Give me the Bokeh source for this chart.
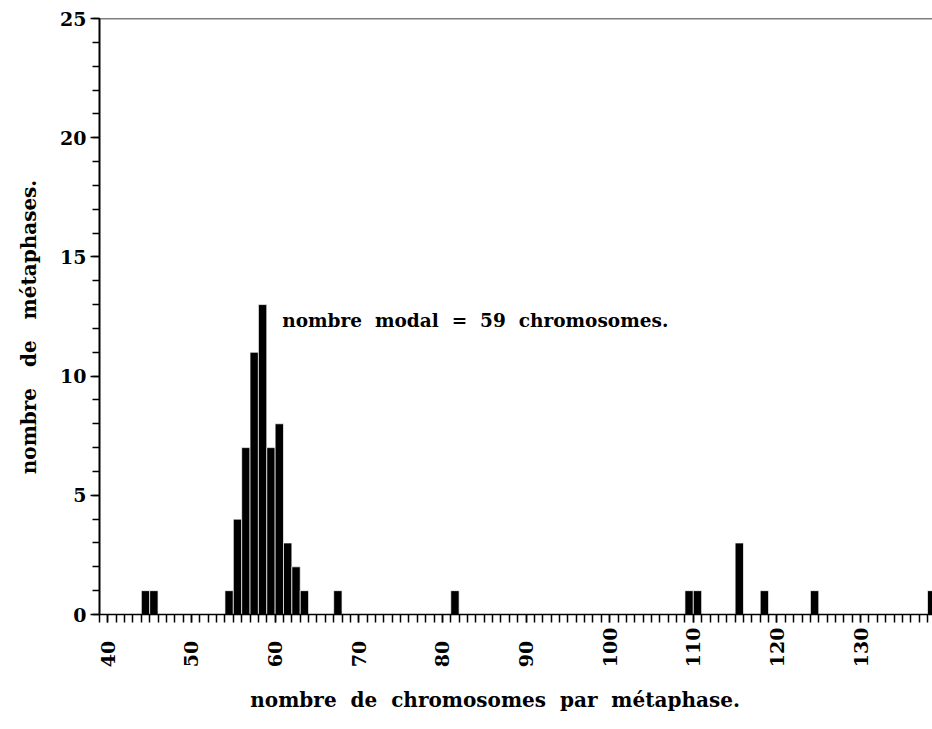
import math
from bokeh.plotting import figure
from bokeh.models import Range1d, FixedTicker, Label, Span
from bokeh.embed import file_html
from bokeh.resources import INLINE

# data
chromosomes = [45, 46, 55, 56, 57, 58, 59, 60, 61, 62, 63, 64, 68, 82, 110, 111, 116, 119, 125, 139]
metaphases = [1, 1, 1, 4, 7, 11, 13, 7, 8, 3, 2, 1, 1, 1, 1, 1, 3, 1, 1, 1]
x_tick_values = [40, 50, 60, 70, 80, 90, 100, 110, 120, 130]
x_tick_labels = ["40", "50", "60", "70", "80", "90", "100", "110", "120", "130"]
y_tick_values = [0, 5, 10, 15, 20, 25]
x_minor = list(range(39, 139))
y_minor = list(range(0, 26))

FONT = "DejaVu Serif"
NB = "\u00a0"


def spaced(words, n):
    return (NB * n).join(words)


p = figure(width=932, height=724, output_backend="svg", toolbar_location=None,
           x_range=Range1d(39, 138.6), y_range=Range1d(0, 25),
           min_border_left=99, min_border_right=0, min_border_top=18, min_border_bottom=110)
p.background_fill_color = "white"
p.border_fill_color = "white"
p.outline_line_color = None
p.xgrid.visible = False
p.ygrid.visible = False

lefts = [c - 1 for c in chromosomes]
p.quad(left=lefts, right=chromosomes, bottom=0, top=metaphases,
       fill_color="black", line_color="white", line_width=0.7)

# x axis: a tick at every unit, decade labels written bottom-to-top
xa = p.xaxis[0]
xa.ticker = FixedTicker(ticks=x_tick_values, minor_ticks=x_minor)
pad = "\u2007"
xa.major_label_overrides = {v: (t + pad if len(t) == 2 else t) for v, t in zip(x_tick_values, x_tick_labels)}
xa.major_label_orientation = math.pi / 2
xa.major_label_text_font = FONT
xa.major_label_text_font_style = "bold"
xa.major_label_text_font_size = "19px"
xa.major_label_text_color = "black"
xa.major_label_standoff = 5
xa.axis_line_color = "black"
xa.axis_line_width = 1.5
xa.minor_tick_line_color = "black"
xa.major_tick_line_color = "black"
xa.minor_tick_line_width = 1.5
xa.major_tick_line_width = 1.5
xa.minor_tick_out = 8
xa.minor_tick_in = 0
xa.major_tick_out = 8
xa.major_tick_in = 0
xa.axis_label = spaced(["nombre", "de", "chromosomes", "par", "métaphase."], 2) + NB * 6
xa.axis_label_text_font = FONT
xa.axis_label_text_font_style = "bold"
xa.axis_label_text_font_size = "20px"
xa.axis_label_text_color = "black"
xa.axis_label_standoff = 18

ya = p.yaxis[0]
ya.ticker = FixedTicker(ticks=y_tick_values, minor_ticks=y_minor)
ya.axis_line_color = "black"
ya.axis_line_width = 2
ya.major_tick_out = 9
ya.major_tick_in = 0
ya.minor_tick_out = 7
ya.minor_tick_in = 0
ya.major_tick_line_color = "black"
ya.minor_tick_line_color = "black"
ya.major_tick_line_width = 1.5
ya.minor_tick_line_width = 1.5
ya.major_label_text_font = FONT
ya.major_label_text_font_style = "bold"
ya.major_label_text_font_size = "19px"
ya.major_label_text_color = "black"
ya.major_label_standoff = 4
ya.axis_label = spaced(["nombre", "de", "métaphases."], 3) + NB * 3
ya.axis_label_text_font = FONT
ya.axis_label_text_font_style = "bold"
ya.axis_label_text_font_size = "20px"
ya.axis_label_text_color = "black"
ya.axis_label_standoff = 16

# top border line
p.add_layout(Span(location=25, dimension="width", line_color="black", line_width=1.5))

# annotation
p.add_layout(Label(x=60.85, y=12.33,
                   text=spaced(["nombre", "modal", "=", "59", "chromosomes."], 2),
                   text_align="left", text_baseline="middle", text_color="black",
                   text_font=FONT, text_font_style="bold", text_font_size="18.5px"))

open("out.html", "w").write(file_html(p, INLINE))
